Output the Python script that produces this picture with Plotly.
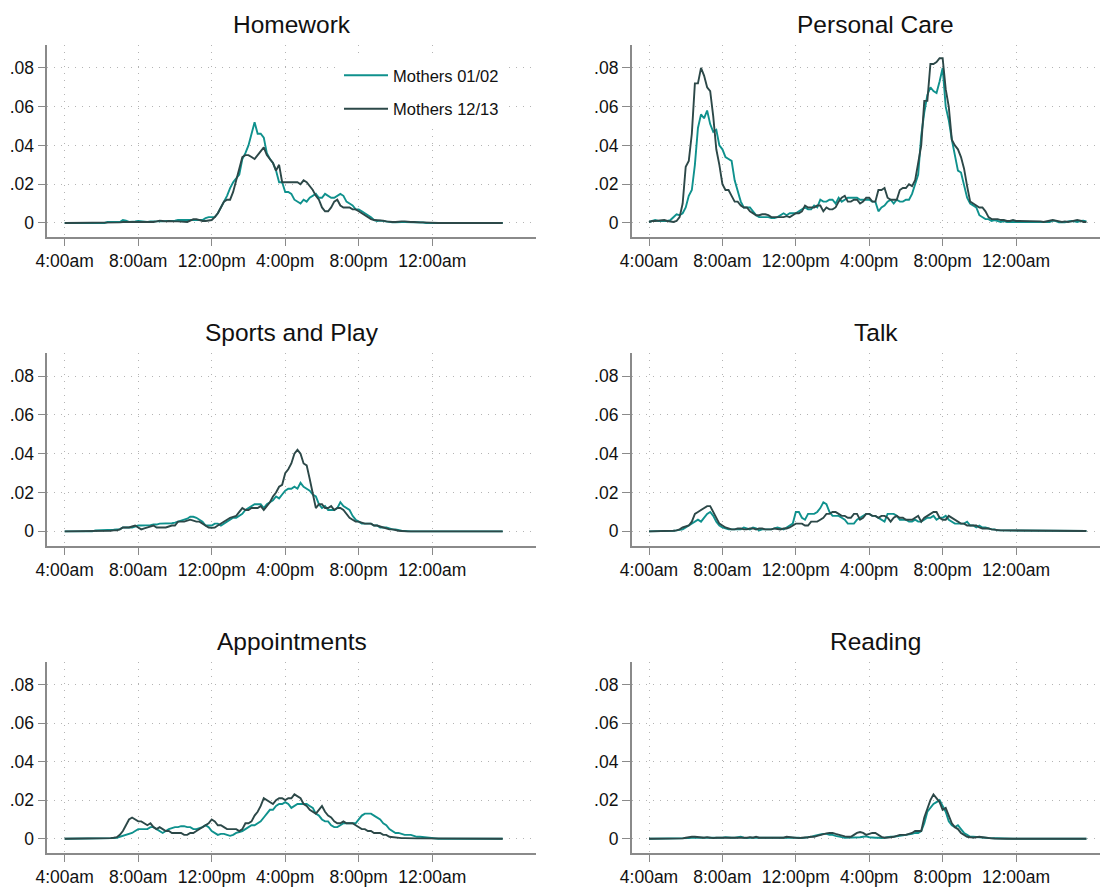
import plotly.graph_objects as go

# time slots: minutes after 4:00am, 10-minute intervals (4:00am .. 3:50am)
minutes = list(range(0, 1440, 10))
tick_minutes = [0, 240, 480, 720, 960, 1200]
tick_labels = ["4:00am", "8:00am", "12:00pm", "4:00pm", "8:00pm", "12:00am"]
y_ticks = [0, 0.02, 0.04, 0.06, 0.08]
y_tick_labels = ["0", ".02", ".04", ".06", ".08"]

series_names = ["Mothers 01/02", "Mothers 12/13"]
panel_titles = ["Homework", "Personal Care", "Sports and Play", "Talk", "Appointments", "Reading"]

# ---- Homework ----
homework_0102 = [
    0, 0, 0, 0, 0, 0, 0, 0, 0, 0, 0, 0,
    0, 0, .0005, .0005, .0005, .0005, .0005, .0015, .0012, .0005, .0008, .0008,
    .001, .0008, .0005, .0005, .0008, .0008, .0005, .0005, .0008, .001, .001, .0012,
    .0012, .0015, .0015, .0015, .0015, .0015, .0015, .0015, .0012, .0015, .0025, .003,
    .003, .003, .005, .008, .011, .014, .018, .021, .023, .025, .033, .036,
    .040, .046, .052, .046, .046, .044, .036, .033, .031, .027, .021, .021,
    .016, .016, .015, .012, .011, .010, .012, .011, .013, .014, .015, .013,
    .013, .015, .014, .013, .013, .014, .015, .014, .011, .010, .009, .007,
    .007, .006, .005, .004, .003, .0015, .001, .0012, .001, .0005, .0005, .0003,
    .0003, .0005, .0005, .0005, .0005, .0005, .0005, .0003, .0003, .0002, 0, 0,
    0, 0, 0, 0, 0, 0, 0, 0, 0, 0, 0, 0,
    0, 0, 0, 0, 0, 0, 0, 0, 0, 0, 0, 0,
]
homework_1213 = [
    0, 0, 0, 0, 0, 0, 0, 0, 0, 0, 0, 0,
    0, 0, .0003, .0003, .0003, .0003, .0003, .0005, .0005, .0003, .0003, .0003,
    .0003, .0003, .0005, .0005, .0005, .0005, .0008, .0012, .001, .0008, .001, .0008,
    .0008, .0008, .0008, .0005, .0005, .0012, .002, .002, .0015, .001, .001, .0012,
    .0015, .003, .005, .008, .011, .012, .012, .016, .022, .029, .034, .035,
    .035, .034, .033, .035, .037, .039, .035, .033, .031, .027, .030, .021,
    .021, .021, .021, .021, .021, .020, .022, .021, .019, .017, .014, .012,
    .008, .006, .006, .008, .011, .012, .009, .008, .008, .008, .007, .007,
    .006, .005, .004, .003, .002, .0015, .0015, .0015, .0012, .0008, .0005, .0005,
    .0005, .0008, .0008, .0008, .0005, .0005, .0005, .0003, .0003, .0003, .0002, 0,
    0, 0, 0, 0, 0, 0, 0, 0, 0, 0, 0, 0,
    0, 0, 0, 0, 0, 0, 0, 0, 0, 0, 0, 0,
]

# ---- Personal Care ----
personal_0102 = [
    .0005, .001, .0015, .001, .001, .001, .001, .0015, .003, .0045, .004, .005,
    .008, .014, .017, .030, .049, .056, .054, .058, .051, .047, .048, .040,
    .038, .034, .033, .032, .022, .017, .011, .008, .008, .008, .006, .004,
    .003, .003, .003, .003, .0025, .0025, .003, .004, .005, .004, .005, .005,
    .005, .006, .007, .008, .007, .007, .009, .008, .012, .011, .011, .012,
    .012, .010, .013, .011, .012, .013, .013, .013, .013, .012, .012, .012,
    .012, .011, .011, .006, .008, .009, .011, .012, .010, .012, .011, .011,
    .012, .012, .015, .020, .025, .045, .057, .066, .070, .068, .067, .073,
    .080, .060, .053, .043, .035, .027, .026, .020, .013, .010, .009, .008,
    .004, .003, .002, .002, .001, .0015, .001, .0005, .001, .0005, .0005, .0005,
    .0005, .0003, .0003, .0003, .0005, .0005, .0003, .0003, .0003, .0005, .0003, .0005,
    .0012, .001, .0003, .0003, .0003, .0008, .001, .0008, .0005, .001, .0012, .0008,
]
personal_1213 = [
    .0005, .001, .001, .0012, .0012, .0015, .001, .0008, .0005, .001, .003, .010,
    .029, .032, .046, .072, .072, .080, .076, .070, .068, .055, .038, .030,
    .020, .017, .017, .014, .011, .011, .009, .008, .008, .006, .005, .004,
    .004, .0045, .0045, .004, .003, .003, .003, .003, .003, .0035, .003, .004,
    .005, .005, .006, .009, .008, .008, .008, .009, .009, .006, .008, .007,
    .007, .008, .011, .013, .014, .011, .011, .012, .012, .010, .011, .013,
    .013, .011, .011, .017, .017, .018, .013, .012, .012, .012, .017, .018,
    .018, .020, .019, .022, .031, .040, .063, .063, .082, .082, .083, .085,
    .085, .069, .060, .043, .040, .038, .034, .028, .019, .011, .010, .009,
    .008, .008, .006, .003, .002, .002, .002, .0015, .0015, .001, .001, .0015,
    .001, .001, .001, .001, .001, .0008, .0008, .001, .0008, .0005, .0008, .001,
    .0015, .0012, .001, .0005, .0008, .0005, .0008, .0012, .0015, .0012, .0005, .0005,
]

# ---- Sports and Play ----
sports_0102 = [
    0, 0, 0, 0, 0, 0, 0, 0, 0, 0, .0005, .0005,
    .0005, .0005, .0005, .0005, .0008, .001, .001, .002, .002, .002, .002, .0025,
    .003, .003, .003, .003, .0032, .0035, .0035, .004, .004, .004, .004, .0042,
    .0045, .005, .0055, .006, .0065, .0075, .0075, .007, .006, .005, .003, .003,
    .003, .004, .004, .003, .004, .005, .006, .007, .007, .008, .009, .011,
    .012, .013, .014, .014, .014, .012, .014, .015, .016, .018, .017, .019,
    .021, .022, .022, .023, .022, .025, .023, .022, .021, .019, .018, .014,
    .012, .013, .011, .011, .011, .012, .015, .013, .012, .011, .008, .006,
    .005, .004, .004, .004, .004, .003, .003, .002, .002, .002, .0015, .001,
    .001, .0005, .0003, .0002, 0, 0, 0, 0, 0, 0, 0, 0,
    0, 0, 0, 0, 0, 0, 0, 0, 0, 0, 0, 0,
    0, 0, 0, 0, 0, 0, 0, 0, 0, 0, 0, 0,
]
sports_1213 = [
    0, 0, 0, 0, 0, 0, 0, 0, 0, 0, 0, 0,
    0, 0, .0002, .0003, .0005, .0005, .001, .002, .002, .002, .0025, .003,
    .002, .001, .0015, .002, .0025, .003, .002, .002, .002, .002, .0025, .003,
    .003, .005, .005, .005, .0055, .006, .0055, .005, .005, .004, .003, .002,
    .0018, .002, .003, .004, .005, .006, .007, .0075, .008, .010, .012, .011,
    .011, .012, .012, .012, .013, .011, .013, .015, .018, .020, .023, .024,
    .030, .032, .035, .040, .042, .040, .035, .034, .027, .020, .012, .014,
    .014, .012, .012, .013, .011, .012, .012, .011, .009, .007, .006, .005,
    .005, .0045, .004, .004, .004, .003, .003, .0025, .002, .0015, .001, .001,
    .0005, .0003, .0002, 0, 0, 0, 0, 0, 0, 0, 0, 0,
    0, 0, 0, 0, 0, 0, 0, 0, 0, 0, 0, 0,
    0, 0, 0, 0, 0, 0, 0, 0, 0, 0, 0, 0,
]

# ---- Talk ----
talk_0102 = [
    0, 0, 0, 0, 0, 0, .0002, .0002, .0003, .0005, .0008, .001,
    .002, .003, .004, .005, .006, .005, .007, .009, .010, .008, .005, .003,
    .002, .0015, .001, .001, .001, .001, .001, .002, .0015, .001, .002, .0015,
    .0005, .001, .001, .001, .001, .0015, .002, .0015, .001, .002, .003, .004,
    .010, .010, .007, .006, .009, .009, .009, .010, .012, .015, .014, .010,
    .008, .008, .008, .007, .006, .004, .004, .004, .006, .007, .008, .009,
    .009, .008, .008, .007, .006, .005, .009, .009, .009, .008, .006, .006,
    .006, .005, .005, .006, .005, .005, .006, .007, .007, .008, .006, .007,
    .007, .008, .006, .005, .004, .004, .004, .004, .005, .003, .003, .002,
    .003, .002, .002, .0015, .001, .001, .0005, .0005, .0005, .0005, .0005, .0005,
    .0003, .0003, .0002, .0002, .0002, .0002, .0002, .0002, .0002, .0002, .0002, .0002,
    .0002, .0002, .0002, .0002, .0002, .0002, .0002, .0002, .0002, .0002, .0002, .0002,
]
talk_1213 = [
    0, 0, 0, 0, 0, 0, 0, .0002, .0003, .0005, .001, .002,
    .0025, .003, .005, .009, .010, .011, .012, .013, .013, .010, .007, .004,
    .003, .002, .0015, .001, .001, .0015, .0015, .001, .001, .0015, .0015, .001,
    .0015, .0015, .001, .001, .001, .0015, .0012, .001, .0015, .0015, .002, .003,
    .004, .004, .004, .003, .003, .005, .005, .005, .006, .007, .009, .009,
    .010, .010, .009, .008, .008, .007, .007, .009, .009, .006, .007, .009,
    .009, .008, .008, .007, .008, .008, .007, .005, .007, .008, .007, .007,
    .006, .006, .006, .007, .008, .005, .007, .008, .009, .010, .010, .007,
    .006, .006, .008, .007, .006, .005, .004, .004, .003, .003, .003, .003,
    .002, .0015, .0015, .0015, .001, .0008, .0005, .0005, .0005, .0005, .0005, .0005,
    .0003, .0003, .0003, .0002, .0002, .0002, .0002, .0002, .0002, .0002, .0002, .0002,
    .0002, .0002, .0002, .0002, .0002, .0002, .0002, .0002, .0002, .0002, .0002, .0002,
]

# ---- Appointments ----
appoint_0102 = [
    0, 0, 0, 0, 0, 0, 0, 0, 0, 0, 0, 0,
    0, 0, 0, .0002, .0003, .0005, .001, .0015, .002, .0025, .003, .004,
    .005, .005, .005, .005, .006, .006, .005, .004, .003, .004, .005, .0055,
    .006, .006, .0065, .0065, .006, .006, .005, .005, .0055, .006, .007, .006,
    .004, .003, .002, .0025, .0025, .002, .0015, .002, .003, .0035, .004, .005,
    .006, .007, .007, .008, .009, .011, .013, .015, .015, .017, .018, .018,
    .019, .018, .016, .017, .018, .018, .018, .018, .017, .016, .013, .012,
    .010, .009, .009, .007, .006, .006, .007, .008, .008, .008, .008, .008,
    .010, .012, .013, .013, .013, .012, .011, .010, .008, .007, .005, .004,
    .003, .003, .0025, .002, .002, .002, .0015, .001, .001, .0008, .0005, .0004,
    .0003, 0, 0, 0, 0, 0, 0, 0, 0, 0, 0, 0,
    0, 0, 0, 0, 0, 0, 0, 0, 0, 0, 0, 0,
]
appoint_1213 = [
    0, 0, 0, 0, 0, 0, 0, 0, 0, 0, 0, 0,
    0, 0, .0003, .0003, .0005, .0008, .002, .004, .007, .010, .011, .010,
    .009, .009, .008, .007, .008, .006, .005, .006, .005, .004, .004, .003,
    .003, .003, .003, .002, .002, .003, .003, .004, .005, .006, .007, .008,
    .010, .009, .007, .007, .006, .005, .005, .005, .005, .004, .005, .008,
    .008, .009, .012, .014, .017, .021, .020, .019, .018, .020, .021, .021,
    .020, .021, .021, .023, .022, .021, .018, .017, .015, .014, .013, .015,
    .017, .014, .012, .011, .009, .008, .008, .009, .008, .008, .008, .007,
    .006, .005, .005, .004, .004, .003, .003, .003, .002, .002, .001, .0008,
    .0005, .0004, .0003, .0003, .0002, .0002, .0002, .0002, .0002, .0002, .0001, 0,
    0, 0, 0, 0, 0, 0, 0, 0, 0, 0, 0, 0,
    0, 0, 0, 0, 0, 0, 0, 0, 0, 0, 0, 0,
]

# ---- Reading ----
reading_0102 = [
    0, 0, 0, 0, 0, 0, 0, 0, 0, 0, 0, 0,
    .0002, .0003, .0005, .0005, .0003, .0005, .0003, .0005, .0005, .0003, .0005, .0005,
    .0005, .0008, .0005, .0005, .0005, .0008, .001, .0005, .0003, .0005, .0005, .0008,
    .0005, .0005, .0005, .0005, .0008, .0005, .0005, .0005, .0005, .0008, .0008, .0005,
    .0005, .0005, .0003, .0005, .0008, .001, .0015, .002, .0022, .0025, .0025, .002,
    .002, .0015, .001, .0008, .0005, .0005, .0005, .0005, .0005, .0008, .001, .0012,
    .0008, .0005, .0005, .0005, .0003, .0005, .0008, .001, .001, .0012, .0015, .0018,
    .002, .002, .0025, .003, .003, .004, .008, .014, .016, .018, .019, .020,
    .017, .014, .009, .007, .006, .007, .005, .003, .002, .001, .001, .0008,
    .0006, .0005, .0005, .0004, .0003, .0003, .0003, .0002, .0002, .0001, 0, 0,
    0, 0, 0, 0, 0, 0, 0, 0, 0, 0, 0, 0,
    0, 0, 0, 0, 0, 0, 0, 0, 0, 0, 0, 0,
]
reading_1213 = [
    0, 0, 0, 0, 0, 0, 0, 0, 0, 0, 0, .0002,
    .0005, .0008, .001, .001, .0008, .0005, .0005, .0008, .0005, .0003, .0005, .0005,
    .0003, .0003, .0005, .0005, .0005, .0005, .0005, .0003, .0005, .0008, .0005, .001,
    .0005, .0005, .0005, .0008, .0005, .0005, .0005, .0008, .0005, .001, .0008, .0005,
    .0005, .0003, .0005, .0005, .0008, .001, .001, .0015, .002, .0025, .0028, .003,
    .003, .0025, .002, .0015, .0012, .001, .001, .002, .003, .0035, .003, .002,
    .0025, .003, .003, .002, .001, .0005, .0005, .0008, .001, .0015, .002, .002,
    .002, .0025, .003, .004, .004, .004, .011, .016, .020, .023, .021, .019,
    .015, .016, .012, .008, .006, .005, .003, .002, .001, .0008, .0005, .0008,
    .001, .0008, .0005, .0003, .0002, .0001, 0, 0, 0, 0, 0, 0,
    0, 0, 0, 0, 0, 0, 0, 0, 0, 0, 0, 0,
    0, 0, 0, 0, 0, 0, 0, 0, 0, 0, 0, 0,
]

panel_data = [
    (homework_0102, homework_1213),
    (personal_0102, personal_1213),
    (sports_0102, sports_1213),
    (talk_0102, talk_1213),
    (appoint_0102, appoint_1213),
    (reading_0102, reading_1213),
]

# ---- styling / layout ----
# the page body has an 8px margin, so the figure is placed at (8, 8) in the window
OFF = 8
W, H = 1100, 879
COLORS = ["#0f918d", "#2c4848"]
FONT = "Liberation Sans, Arial, Helvetica, sans-serif"
AXIS_COLOR = "#8a8a8a"
GRID_COLOR = "#b4b4b4"


def px_x(v):
    return (v - OFF) / W


def px_y(v):
    return 1 - (v - OFF) / H


col_px = [(47.3, 535.7), (631.7, 1108.0)]
col_xrange = [[-56.8, 1537.8], [-56.6, 1500.6]]
row_px = [(45.0, 237.3), (353.3, 545.7), (661.7, 853.0)]
y_range = [-0.0074, 0.0918]
title_center_px = [(291.5, 24.5), (875.5, 24.5)]
row_step = 308.3

fig = go.Figure()
annotations = []

for p in range(6):
    r, c = divmod(p, 2)
    n = p + 1
    xa = "x" if n == 1 else f"x{n}"
    ya = "y" if n == 1 else f"y{n}"
    for s in range(2):
        fig.add_trace(go.Scatter(
            x=minutes, y=panel_data[p][s], mode="lines",
            name=series_names[s], legendgroup=series_names[s],
            showlegend=(p == 0),
            line=dict(color=COLORS[s], width=1.9),
            xaxis=xa, yaxis=ya,
        ))
    x0, x1 = col_px[c]
    top, bot = row_px[r]
    common_x = dict(
        domain=[px_x(x0), min(1.0, px_x(x1))], range=col_xrange[c], anchor=ya,
        tickmode="array", tickvals=tick_minutes, ticktext=tick_labels,
        showline=True, linecolor=AXIS_COLOR, linewidth=1.6,
        ticks="outside", ticklen=7, tickwidth=1.4, tickcolor=AXIS_COLOR,
        showgrid=True, gridcolor=GRID_COLOR, gridwidth=1, griddash="1px,6px",
        zeroline=False, tickfont=dict(family=FONT, size=17.5, color="#111111"),
        fixedrange=True,
    )
    common_y = dict(
        domain=[px_y(bot), px_y(top)], range=y_range, anchor=xa,
        tickmode="array", tickvals=y_ticks, ticktext=y_tick_labels,
        showline=True, linecolor=AXIS_COLOR, linewidth=1.6,
        ticks="outside", ticklen=8, tickwidth=1.4, tickcolor=AXIS_COLOR,
        showgrid=True, gridcolor=GRID_COLOR, gridwidth=1, griddash="1px,6px",
        zeroline=False, tickfont=dict(family=FONT, size=17.5, color="#111111"),
        fixedrange=True,
    )
    fig.layout[("xaxis" if n == 1 else f"xaxis{n}")] = common_x
    fig.layout[("yaxis" if n == 1 else f"yaxis{n}")] = common_y

    tx, ty = title_center_px[c]
    ty = ty + r * row_step
    annotations.append(dict(
        text=panel_titles[p], x=px_x(tx), y=px_y(ty), xref="paper", yref="paper",
        xanchor="center", yanchor="middle", showarrow=False,
        font=dict(family=FONT, size=24.5, color="#111111"),
    ))

fig.update_layout(
    width=W, height=H,
    margin=dict(l=0, r=0, t=0, b=0, autoexpand=False),
    paper_bgcolor="white", plot_bgcolor="white",
    annotations=annotations,
    showlegend=True,
    legend=dict(
        x=px_x(339), y=px_y(58), xanchor="left", yanchor="top",
        bgcolor="white", borderwidth=0,
        font=dict(family=FONT, size=16.5, color="#111111"),
        itemwidth=44, tracegroupgap=9, traceorder="grouped",
    ),
    font=dict(family=FONT),
)

fig.write_html("out.html")
